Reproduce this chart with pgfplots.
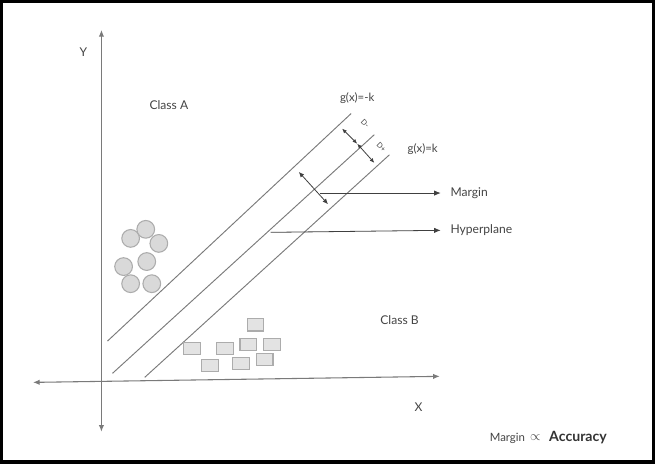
\documentclass[border=0pt]{standalone}
\usepackage{pgfplots}
\pgfplotsset{compat=1.18}
\usepackage{fontspec}
\setmainfont{Lato}
\usetikzlibrary{arrows.meta}
\definecolor{ln}{HTML}{7A7A7A}
\definecolor{tx}{HTML}{444444}
\begin{document}
\begin{tikzpicture}
\begin{axis}[scale only axis, width=491.25pt, height=350.25pt,
  xmin=0, xmax=655, ymin=0, ymax=467, y dir=reverse, hide axis, clip=false]
% frame
\draw[line width=2.6pt, black] (axis cs:5,7) rectangle (axis cs:652,464);
% axes
\addplot[ln, line width=0.8pt, {Latex[length=5pt,width=4pt]}-{Latex[length=5pt,width=4pt]}] coordinates {(104,35) (104,434)};
\addplot[ln, line width=0.8pt, {Latex[length=5pt,width=4pt]}-{Latex[length=5pt,width=4pt]}] coordinates {(36,385) (440,379)};
% three parallel lines
\addplot[ln, line width=0.7pt] coordinates {(110,344) (352,118)};
\addplot[ln, line width=0.7pt] coordinates {(115,376) (375,139)};
\addplot[ln, line width=0.7pt] coordinates {(147,380) (390,159)};
% class A circles
\addplot[only marks, mark=*, mark size=6.6pt, mark options={fill=gray!30, draw=gray!65, line width=0.8pt}] coordinates {
(133,242) (148,233) (161,247) (126,270) (149,265) (133,287) (154,287)};
% class B rectangles
\addplot[only marks, mark=square*, mark size=4.5pt, mark options={xscale=1.4, fill=gray!22, draw=gray!65, line width=0.8pt}] coordinates {
(257,328) (194,351) (227,351) (250,347) (273,347) (212,368) (243,366) (266,362)};
% margin double arrow
\addplot[black!75, line width=0.6pt, {Latex[length=4pt,width=3.5pt]}-{Latex[length=4pt,width=3.5pt]}] coordinates {(300,176) (329,208)};
% small double arrows
\addplot[black!75, line width=0.6pt, {Latex[length=3.5pt,width=3pt]}-{Latex[length=3.5pt,width=3pt]}] coordinates {(343,133) (358,148)};
\addplot[black!75, line width=0.6pt, {Latex[length=3.5pt,width=3pt]}-{Latex[length=3.5pt,width=3pt]}] coordinates {(358,148) (375,167)};
% pointer arrows
\addplot[black!75, line width=0.6pt, -{Latex[length=5pt,width=4pt]}] coordinates {(321,197) (441,197)};
\addplot[black!75, line width=0.6pt, -{Latex[length=5pt,width=4pt]}] coordinates {(272,236) (441,234)};
% labels
\node[tx, font=\fontsize{9}{10}\selectfont] at (axis cs:86,57) {Y};
\node[tx, font=\fontsize{9}{10}\selectfont] at (axis cs:419,410) {X};
\node[tx, font=\fontsize{9}{10}\selectfont] at (axis cs:171,110) {Class A};
\node[tx, font=\fontsize{9}{10}\selectfont] at (axis cs:400,323) {Class B};
\node[tx, font=\fontsize{8.5}{10}\selectfont] at (axis cs:358,103) {g(x)=-k};
\node[tx, font=\fontsize{8.5}{10}\selectfont] at (axis cs:423,153) {g(x)=k};
\node[tx, font=\fontsize{5.5}{6}\selectfont, rotate=-45, inner sep=0.5pt] at (axis cs:366,128) {D-};
\node[tx, font=\fontsize{5.5}{6}\selectfont, rotate=-45, inner sep=0.5pt] at (axis cs:382,151) {D+};
\node[tx, font=\fontsize{9}{10}\selectfont, anchor=west] at (axis cs:446,197) {Margin};
\node[tx, font=\fontsize{9}{10}\selectfont, anchor=west] at (axis cs:446,234) {Hyperplane};
\node[tx, font=\fontsize{8.5}{10}\selectfont, anchor=west] at (axis cs:485,441) {Margin};
\node[tx, font=\fontsize{10}{11}\selectfont] at (axis cs:535,440) {$\propto$};
\node[black!80, font=\fontsize{10.5}{12}\selectfont\bfseries, anchor=west] at (axis cs:544,440) {Accuracy};
\end{axis}
\end{tikzpicture}
\end{document}
